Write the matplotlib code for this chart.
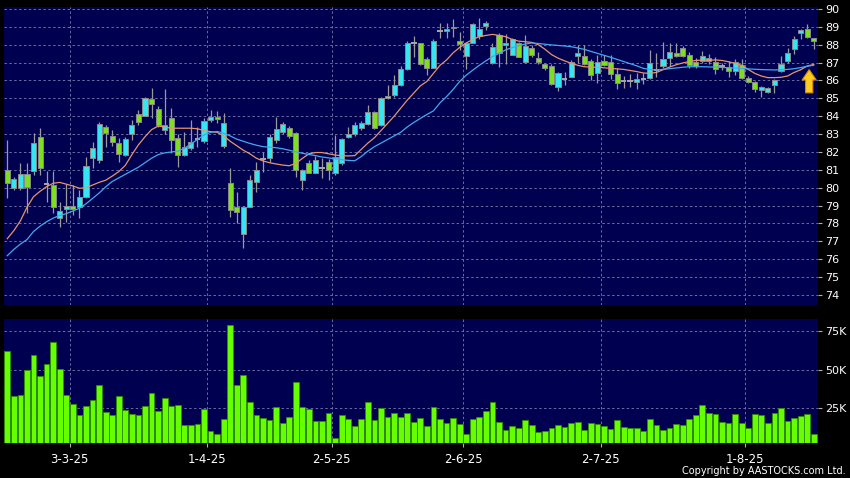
import numpy as np
import matplotlib
matplotlib.use('Agg')
import matplotlib.pyplot as plt
from matplotlib.patches import FancyArrow
from matplotlib.ticker import FuncFormatter

############ data ############

opens = [80.98, 79.97, 79.97, 80.75, 80.94, 82.82, 80.2, 80.15, 78.29, 78.82,
         78.98, 78.91, 79.5, 81.65, 81.56, 83.42, 82.92, 82.49, 81.82, 82.99,
         84.1, 84.01, 84.94, 84.38, 83.23, 83.88, 82.76, 81.83, 82.2, 82.7,
         82.63, 83.79, 83.97, 82.33, 80.28, 78.9, 77.44, 78.94, 80.34, 81.59,
         81.64, 82.67, 83.13, 83.32, 83.09, 80.43, 81.36, 80.84, 81.1, 81.45,
         80.8, 81.36, 82.85, 82.98, 83.32, 83.54, 84.21, 83.5, 85.0, 85.18,
         85.74, 86.62, 88.08, 88.08, 87.2, 86.72, 88.79, 88.79, 88.92, 88.23,
         87.38, 88.12, 88.49, 89.05, 86.99, 88.55, 88.0, 87.43, 88.08, 87.05,
         87.8, 87.24, 86.9, 86.83, 85.65, 86.1, 86.22, 87.39, 87.37, 87.11,
         86.4, 87.11, 87.05, 86.36, 85.95, 85.95, 85.92, 86.1, 86.12, 86.58,
         86.81, 87.28, 87.52, 87.83, 87.41, 87.03, 87.09, 87.09, 87.03, 86.8,
         86.77, 86.53, 86.84, 86.12, 85.92, 85.46, 85.38, 85.73, 86.53, 87.09,
         87.78, 88.68, 88.86, 88.38]

closes = [80.25, 80.47, 80.75, 80.06, 82.49, 81.09, 80.2, 78.95, 78.72, 78.98,
          78.81, 79.47, 81.24, 82.21, 83.55, 83.09, 82.58, 81.87, 82.71, 83.5,
          83.7, 85.0, 84.68, 83.51, 83.51, 82.67, 81.83, 82.29, 82.54, 82.7,
          83.75, 83.97, 83.82, 83.6, 78.75, 78.62, 78.94, 80.43, 80.99, 81.59,
          82.82, 83.26, 83.54, 82.89, 81.02, 80.99, 80.84, 81.58, 81.1, 81.02,
          81.73, 82.7, 82.98, 83.5, 83.6, 84.21, 83.37, 85.0, 85.15, 85.74,
          86.62, 88.08, 88.08, 86.9, 86.69, 88.21, 88.79, 88.87, 89.0, 88.04,
          88.08, 89.14, 88.87, 89.2, 87.89, 87.56, 88.1, 88.3, 87.33, 87.93,
          87.43, 87.05, 86.72, 85.79, 86.4, 86.1, 87.02, 87.52, 86.91, 86.31,
          87.05, 86.87, 86.35, 85.88, 85.95, 85.95, 86.07, 86.1, 87.0, 86.58,
          87.22, 87.61, 87.37, 87.37, 86.87, 86.83, 87.37, 87.28, 86.62, 86.8,
          86.53, 87.03, 86.16, 85.94, 85.55, 85.64, 85.6, 86.01, 86.9, 87.56,
          88.34, 88.82, 88.45, 88.19]

highs = [82.68, 80.6, 81.37, 81.4, 83.05, 83.37, 80.94, 80.95, 79.22, 80.2,
         80.16, 79.88, 81.74, 82.58, 83.7, 83.5, 83.24, 82.8, 82.86, 83.8,
         84.35, 85.1, 85.56, 84.6, 85.5, 84.44, 83.0, 83.1, 83.79, 83.4,
         83.9, 84.35, 84.3, 84.16, 81.08, 79.78, 79.0, 80.71, 81.45, 82.0,
         83.0, 83.97, 83.7, 83.45, 83.1, 81.05, 81.55, 81.75, 81.65, 81.6,
         82.95, 82.8, 83.41, 83.7, 83.75, 84.63, 84.3, 85.05, 85.74, 86.3,
         86.8, 88.2, 88.49, 88.1, 87.3, 88.3, 89.2, 89.2, 89.44, 88.74,
         88.15, 89.2, 89.48, 89.35, 88.1, 88.65, 88.6, 88.4, 88.15, 88.55,
         88.0, 87.6, 87.0, 86.9, 86.5, 86.45, 87.15, 87.99, 87.99, 87.2,
         87.4, 87.4, 87.4, 86.7, 86.25, 86.35, 86.4, 86.4, 87.7, 87.52,
         88.17, 88.11, 88.1, 87.95, 87.6, 87.25, 87.67, 87.5, 87.3, 87.0,
         87.1, 87.2, 87.2, 86.25, 85.95, 85.7, 85.65, 86.1, 87.37, 87.8,
         88.5, 88.9, 89.16, 88.4]

lows = [79.41, 79.9, 79.88, 78.6, 80.72, 80.72, 79.2, 78.59, 77.79, 78.1,
        78.48, 78.33, 79.45, 81.09, 81.41, 82.3, 82.34, 81.46, 81.8, 82.68,
        83.5, 84.0, 83.9, 83.41, 83.0, 81.92, 81.17, 81.8, 82.1, 82.3,
        82.48, 83.7, 83.6, 82.2, 78.38, 78.0, 76.64, 78.9, 79.78, 80.9,
        81.45, 82.48, 83.0, 82.8, 80.6, 79.87, 80.8, 80.8, 80.55, 80.43,
        80.7, 81.3, 82.8, 82.9, 83.25, 83.5, 83.3, 83.45, 84.95, 85.1,
        85.7, 86.6, 87.33, 86.85, 86.3, 86.7, 88.36, 88.4, 88.46, 87.7,
        86.63, 88.1, 88.3, 88.85, 86.95, 86.77, 86.9, 87.4, 87.3, 87.0,
        87.3, 86.9, 86.6, 85.75, 85.4, 85.75, 86.2, 87.0, 86.85, 86.05,
        85.86, 86.8, 86.1, 85.51, 85.6, 85.65, 85.5, 85.8, 86.1, 86.2,
        86.7, 86.8, 87.3, 87.3, 86.7, 86.7, 87.0, 86.95, 86.35, 86.6,
        86.2, 86.3, 86.1, 85.85, 85.35, 85.1, 85.3, 85.29, 86.45, 87.0,
        87.5, 88.3, 88.4, 87.77]

# volume in thousands
volumes = [62.1, 33.0, 33.6, 49.4, 59.5, 46.1, 53.7, 67.7, 50.2, 33.6,
           27.6, 20.7, 26.3, 30.6, 40.1, 22.4, 20.5, 32.8, 23.7, 21.3,
           20.7, 26.7, 34.9, 23.5, 31.9, 26.3, 27.2, 14.4, 14.0, 14.9,
           24.4, 10.1, 8.6, 18.3, 78.9, 40.3, 46.3, 28.7, 20.5, 18.5,
           17.2, 25.6, 15.7, 19.6, 42.0, 25.6, 24.4, 17.0, 16.8, 22.2,
           5.8, 20.9, 17.9, 13.6, 18.1, 29.3, 17.2, 25.0, 19.6, 21.6,
           19.4, 22.0, 16.4, 18.5, 13.6, 25.9, 18.3, 15.3, 18.8, 14.7,
           8.2, 17.7, 19.6, 23.3, 29.3, 15.9, 10.8, 13.4, 12.1, 17.2,
           14.0, 9.9, 10.1, 12.3, 14.2, 12.9, 15.3, 16.4, 11.2, 15.3,
           14.9, 13.6, 11.6, 17.5, 13.1, 11.9, 12.5, 10.3, 17.7, 14.0,
           11.0, 11.9, 14.7, 14.4, 17.7, 20.9, 26.9, 21.6, 21.1, 15.9,
           15.7, 21.3, 15.7, 12.5, 21.3, 20.3, 15.7, 22.0, 25.0, 16.8,
           18.5, 19.8, 21.3, 8.6]

# moving averages as drawn (short = orange, long = blue)
ma_short = [77.15, 77.6, 78.15, 78.9, 79.5, 79.8, 80.06, 80.25, 80.3, 80.2,
            80.1, 79.97, 80.0, 80.15, 80.3, 80.42, 80.65, 80.9, 81.25, 81.85,
            82.4, 82.85, 83.25, 83.45, 83.4, 83.33, 83.33, 83.33, 83.33, 83.3,
            83.2, 83.14, 83.1, 82.9, 82.6, 82.35, 82.1, 81.9, 81.65, 81.5,
            81.4, 81.33, 81.27, 81.23, 81.36, 81.64, 81.9, 81.97, 81.97, 81.9,
            81.83, 81.79, 81.78, 81.8, 82.15, 82.5, 82.8, 83.2, 83.6, 84.0,
            84.45, 84.9, 85.3, 85.7, 85.95, 86.4, 86.85, 87.15, 87.55, 87.85,
            88.1, 88.3, 88.45, 88.52, 88.58, 88.52, 88.45, 88.3, 88.2, 88.17,
            88.13, 88.0, 87.75, 87.45, 87.25, 87.1, 86.96, 86.85, 86.77, 86.75,
            86.74, 86.71, 86.68, 86.65, 86.62, 86.56, 86.5, 86.42, 86.4, 86.45,
            86.6, 86.75, 86.88, 86.98, 87.06, 87.12, 87.14, 87.13, 87.15, 87.12,
            87.05, 86.95, 86.85, 86.62, 86.4, 86.25, 86.16, 86.16, 86.18, 86.25,
            86.45, 86.6, 86.81, 86.9]

ma_long = [76.2, 76.55, 76.85, 77.1, 77.55, 77.85, 78.1, 78.3, 78.45, 78.55,
           78.7, 78.85, 79.1, 79.4, 79.7, 80.05, 80.35, 80.55, 80.75, 80.95,
           81.15, 81.4, 81.65, 81.85, 81.95, 82.0, 82.05, 82.2, 82.45, 82.7,
           82.95, 83.1, 83.15, 83.05, 82.9, 82.72, 82.6, 82.48, 82.38, 82.3,
           82.27, 82.24, 82.18, 82.1, 82.01, 81.93, 81.86, 81.8, 81.72, 81.67,
           81.62, 81.57, 81.53, 81.51, 81.75, 82.05, 82.3, 82.5, 82.7, 82.9,
           83.1, 83.4, 83.65, 83.88, 84.1, 84.3, 84.75, 85.1, 85.5, 85.95,
           86.3, 86.58, 86.85, 87.1, 87.33, 87.52, 87.71, 87.84, 87.95, 88.04,
           88.1, 88.07, 88.03, 87.99, 87.96, 87.93, 87.89, 87.82, 87.74, 87.63,
           87.52, 87.41, 87.3, 87.18, 87.06, 86.94, 86.82, 86.68, 86.62, 86.59,
           86.62, 86.66, 86.7, 86.74, 86.77, 86.77, 86.77, 86.76, 86.75, 86.73,
           86.71, 86.69, 86.67, 86.65, 86.63, 86.61, 86.6, 86.59, 86.6, 86.62,
           86.66, 86.72, 86.8, 86.85]

date_labels = ['3-3-25', '1-4-25', '2-5-25', '2-6-25', '2-7-25', '1-8-25']
date_index = [10, 31, 50, 70, 91, 113]

price_ticks = list(range(74, 91))
vol_ticks = [25, 50, 75]

############ colours ############

BG = '#000050'
CYAN = '#33e6f2'
GREEN = '#7de01c'
DOJI = '#a8a8a8'
GRID = '#6c6ca0'

o = np.array(opens)
c = np.array(closes)
h = np.array(highs)
l = np.array(lows)
idx = np.arange(len(c))

up = c > o
down = c < o
flat = c == o
body_col = np.where(up, CYAN, np.where(down, GREEN, DOJI))

fig = plt.figure(figsize=(8.5, 4.78), dpi=100, facecolor='black')
ax = fig.add_axes([0.0047, 0.3619, 0.9573, 0.6234])
axv = fig.add_axes([0.0047, 0.0726, 0.9573, 0.26], sharex=ax)

grid_x = [d - 0.5 for d in date_index]

for a in (ax, axv):
    a.set_facecolor(BG)
    for s in a.spines.values():
        s.set_visible(False)
    a.yaxis.tick_right()
    a.tick_params(axis='y', colors='#b0b0b0', labelcolor='white', length=3,
                  width=0.8, pad=2.5, labelsize=8)
    a.set_xticks(grid_x)
    a.grid(True, color=GRID, linestyle=(0, (2.5, 2.5)), linewidth=0.7)
    a.set_axisbelow(True)

#### candles ####
ax.vlines(idx, l, h, color='#9a9a9a', linewidth=0.9, zorder=2)
ax.bar(idx[~flat], np.abs(c - o)[~flat], bottom=np.minimum(o, c)[~flat],
       width=0.78, color=body_col[~flat], edgecolor='#8a8a8a', linewidth=0.7, zorder=3)
ax.hlines(o[flat], idx[flat] - 0.42, idx[flat] + 0.42, color=DOJI, linewidth=1.4, zorder=3)

ax.plot(idx, ma_short, color='#e8946a', linewidth=0.9, zorder=4)
ax.plot(idx, ma_long, color='#42a8ee', linewidth=0.9, zorder=4)

# up arrow at the end
tip = ma_short[-2] - 0.2
ax.add_patch(FancyArrow(idx[-2] + 0.3, tip - 1.3, 0, 1.3 - 0.58, width=1.1,
                        head_width=2.15, head_length=0.58, length_includes_head=False,
                        facecolor='#ffcc22', edgecolor='#d88a00', linewidth=0.8, zorder=5))

ax.set_ylim(73.44, 90.11)
ax.set_yticks(price_ticks)
ax.set_xlim(-0.5, 123.6)
ax.tick_params(axis='x', length=0, labelbottom=False)

#### volume ####
axv.bar(idx, volumes, width=0.88, color='#66ff00', edgecolor='#2f8a00', linewidth=0.6, zorder=3)
axv.set_ylim(2.3, 82.7)
axv.set_yticks(vol_ticks)
axv.yaxis.set_major_formatter(FuncFormatter(lambda v, p: '%dK' % v))
axv.set_xticklabels(date_labels)
axv.tick_params(axis='x', colors='#b0b0b0', labelcolor='white', length=3,
                width=0.8, pad=4, labelsize=8.5)

fig.text(0.995, 0.005, 'Copyright by AASTOCKS.com Ltd.', ha='right', va='bottom',
         color='white', fontsize=7)

plt.savefig('out.png', dpi=100, facecolor='black')
